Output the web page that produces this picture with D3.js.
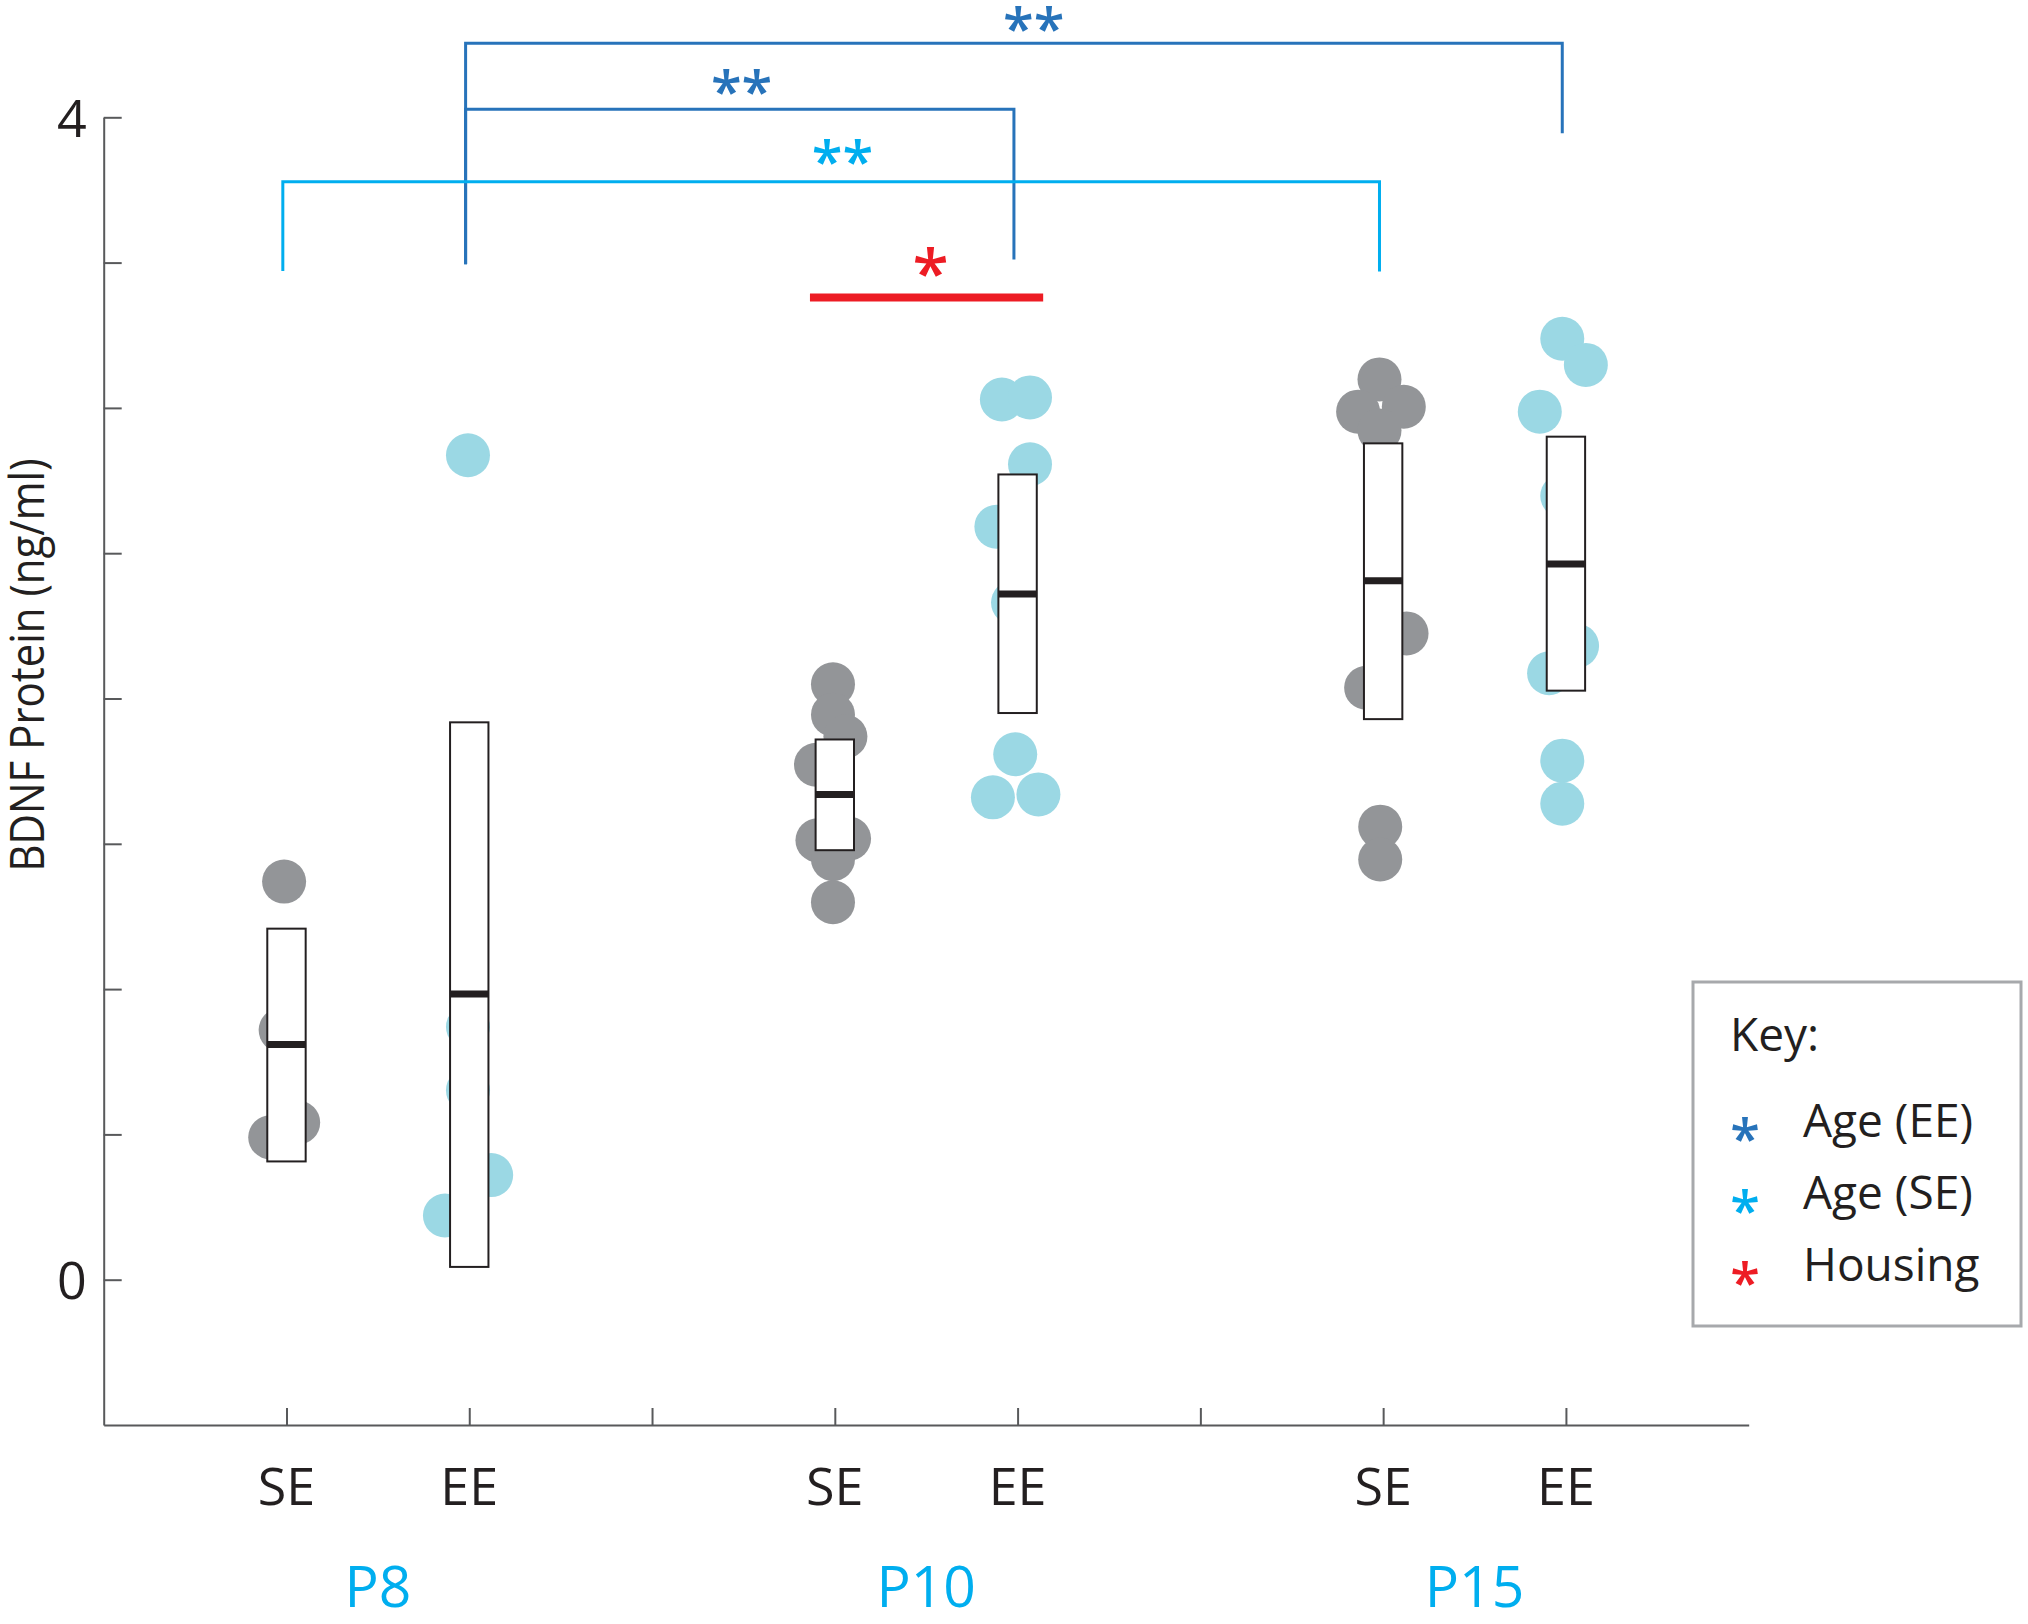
<!DOCTYPE html>
<html><head><meta charset="utf-8">
<script src="https://cdn.jsdelivr.net/npm/d3@7"></script>
<style>body{margin:0;background:#fff} svg{display:block}</style>
</head><body>
<svg id="chart" width="2028" height="1624"></svg>
<script>
// ---------- data ----------
const groups = ["P8", "P10", "P15"];
const groupCenters = [1.5, 4.5, 7.5];
const conditionLabels = ["SE", "EE", "SE", "EE", "SE", "EE"];
const conditionPositions = [1, 2, 4, 5, 7, 8];
const xTickValues = [1, 2, 3, 4, 5, 6, 7, 8];
const yTickValues = [0, 0.5, 1, 1.5, 2, 2.5, 3, 3.5, 4];
const yTickLabels = ["0", "", "", "", "", "", "", "", "4"];

const boxTop    = [1.208, 1.918, 1.859, 2.771, 2.878, 2.901];
const boxBottom = [0.407, 0.044, 1.478, 1.950, 1.929, 2.027];
const boxMedian = [0.809, 0.983, 1.670, 2.360, 2.405, 2.463];

const pointValues = [
  [1.370, 0.859, 0.541, 0.490],
  [2.837, 0.870, 0.652, 0.360, 0.221],
  [2.049, 1.944, 1.869, 1.772, 1.512, 1.518, 1.447, 1.299],
  [3.029, 3.036, 2.806, 2.591, 2.330, 1.808, 1.660, 1.670],
  [3.098, 2.987, 3.004, 2.922, 2.224, 2.037, 1.559, 1.446],
  [3.238, 3.148, 2.987, 2.697, 2.181, 2.087, 1.786, 1.638]
];
const pointOffsets = [
  [-0.013, -0.032, 0.064, -0.089],
  [-0.007, -0.007, -0.007, 0.120, -0.133],
  [-0.010, -0.010, 0.058, -0.103, -0.095, 0.078, -0.010, -0.010],
  [-0.086, 0.068, 0.068, -0.116, -0.025, -0.013, -0.135, 0.114],
  [-0.020, -0.137, 0.113, -0.020, 0.128, -0.093, -0.016, -0.016],
  [-0.020, 0.109, -0.143, -0.020, 0.061, -0.092, -0.020, -0.020]
];

// significance brackets
const bracketKeys  = ["ageEE", "ageEE", "ageSE"];
const bracketXLeft  = [1.98, 1.98, 0.98];
const bracketXRight = [7.98, 4.98, 6.98];
const bracketY      = [4.255, 4.0275, 3.778];
const bracketLeftEnd  = [3.494, 3.494, 3.471];
const bracketRightEnd = [3.945, 3.511, 3.469];
const bracketStars  = ["**", "**", "**"];
const bracketStarX  = [5.088, 3.49, 4.042];
const bracketStarY  = [4.336, 4.121, 3.879];

const housingBar = {x1: 3.864, x2: 5.14, y: 3.38, starX: 4.524, starY: 3.499};

const legendLabels = ["Age (EE)", "Age (SE)", "Housing"];
const legendKeys = ["ageEE", "ageSE", "housing"];

// ---------- styles ----------
const colors = {ageEE: "#2773ba", ageSE: "#00aeef", housing: "#ed1c24",
  SE: "#939598", EE: "#9bd8e4", text: "#231f20", axis: "#58595b"};
const font = "'Open Sans', 'Noto Sans', sans-serif";

const svg = d3.select("#chart");
const x = d3.scaleLinear().domain([0, 9]).range([103.7, 1748.7]);
const y = d3.scaleLinear().domain([-0.5, 4]).range([1425, 117.3]);

// ---------- axes ----------
const yAxis = d3.axisLeft(y).tickValues(yTickValues).tickSize(-18).tickSizeOuter(0)
  .tickPadding(17).tickFormat((d, i) => yTickLabels[i]);
const gy = svg.append("g").attr("transform", `translate(${x(0)},0)`).call(yAxis);
gy.selectAll("path,line").attr("stroke", colors.axis).attr("stroke-width", 2);
gy.selectAll("text").attr("font-family", font).attr("font-size", 52)
  .attr("fill", colors.text).attr("dy", "0.36em");

const xAxis = d3.axisBottom(x).tickValues(xTickValues).tickSize(-17).tickSizeOuter(0).tickFormat("");
const gx = svg.append("g").attr("transform", `translate(0,${y(-0.5)})`).call(xAxis);
gx.selectAll("path,line").attr("stroke", colors.axis).attr("stroke-width", 2);

svg.append("g").selectAll("text").data(conditionLabels).join("text")
  .attr("x", (d, i) => x(conditionPositions[i])).attr("y", 1505)
  .attr("text-anchor", "middle").attr("font-family", font).attr("font-size", 52)
  .attr("fill", colors.text).text(d => d);

svg.append("g").selectAll("text").data(groups).join("text")
  .attr("x", (d, i) => x(groupCenters[i])).attr("y", 1607)
  .attr("text-anchor", "middle").attr("font-family", font).attr("font-size", 57)
  .attr("fill", colors.ageSE).text(d => d);

svg.append("text").attr("transform", "translate(44,665) rotate(-90)")
  .attr("text-anchor", "middle").attr("font-family", font).attr("font-size", 47)
  .attr("textLength", 413).attr("lengthAdjust", "spacingAndGlyphs")
  .attr("fill", colors.text).text("BDNF Protein (ng/ml)");

// ---------- points ----------
const points = [];
pointValues.forEach((vals, i) => vals.forEach((v, j) => points.push({
  x: conditionPositions[i] + pointOffsets[i][j], v, h: conditionLabels[i]})));
svg.append("g").selectAll("circle").data(points).join("circle")
  .attr("cx", d => x(d.x)).attr("cy", d => y(d.v)).attr("r", 22)
  .attr("fill", d => colors[d.h]);

// ---------- boxes ----------
const halfW = 0.105;
const gb = svg.append("g");
gb.selectAll("rect").data(conditionPositions).join("rect")
  .attr("x", d => x(d - halfW)).attr("width", d => x(d + halfW) - x(d - halfW))
  .attr("y", (d, i) => y(boxTop[i])).attr("height", (d, i) => y(boxBottom[i]) - y(boxTop[i]))
  .attr("fill", "#fff").attr("stroke", colors.text).attr("stroke-width", 2);
gb.selectAll("line").data(conditionPositions).join("line")
  .attr("x1", d => x(d - halfW)).attr("x2", d => x(d + halfW))
  .attr("y1", (d, i) => y(boxMedian[i])).attr("y2", (d, i) => y(boxMedian[i]))
  .attr("stroke", colors.text).attr("stroke-width", 7);

// ---------- brackets ----------
const gs = svg.append("g").attr("fill", "none");
bracketKeys.forEach((k, i) => {
  const p = d3.path();
  p.moveTo(x(bracketXLeft[i]), y(bracketLeftEnd[i]));
  p.lineTo(x(bracketXLeft[i]), y(bracketY[i]));
  p.lineTo(x(bracketXRight[i]), y(bracketY[i]));
  p.lineTo(x(bracketXRight[i]), y(bracketRightEnd[i]));
  gs.append("path").attr("d", p.toString()).attr("stroke", colors[k]).attr("stroke-width", 3);
});
svg.append("line").attr("x1", x(housingBar.x1)).attr("x2", x(housingBar.x2))
  .attr("y1", y(housingBar.y)).attr("y2", y(housingBar.y))
  .attr("stroke", colors.housing).attr("stroke-width", 8);

const starFont = 56, starShift = 0.58 * starFont - 4;
svg.append("g").selectAll("text").data(bracketStars).join("text")
  .attr("x", (d, i) => x(bracketStarX[i])).attr("y", (d, i) => y(bracketStarY[i]) + starShift)
  .attr("text-anchor", "middle").attr("font-family", font).attr("font-size", starFont)
  .attr("font-weight", 600).attr("fill", (d, i) => colors[bracketKeys[i]]).text(d => d);
svg.append("text").attr("x", x(housingBar.starX)).attr("y", y(housingBar.starY) + 0.58 * 66 - 5)
  .attr("text-anchor", "middle").attr("font-family", font).attr("font-size", 66)
  .attr("font-weight", 600).attr("fill", colors.housing).text("*");

// ---------- legend ----------
const lg = svg.append("g");
lg.append("rect").attr("x", 1693).attr("y", 982).attr("width", 328).attr("height", 344)
  .attr("fill", "#fff").attr("stroke", "#a7a9ac").attr("stroke-width", 3);
lg.append("text").attr("x", 1730).attr("y", 1051).attr("font-family", font)
  .attr("font-size", 46).attr("fill", colors.text).text("Key:");
legendLabels.forEach((l, i) => {
  const by = 1137 + i * 72;
  lg.append("text").attr("x", 1745).attr("y", by - 10 + 0.58 * 54).attr("text-anchor", "middle")
    .attr("font-family", font).attr("font-size", 54).attr("font-weight", 600)
    .attr("fill", colors[legendKeys[i]]).text("*");
  lg.append("text").attr("x", 1803).attr("y", by).attr("font-family", font)
    .attr("font-size", 46).attr("fill", colors.text).text(l);
});
</script>
</body></html>
